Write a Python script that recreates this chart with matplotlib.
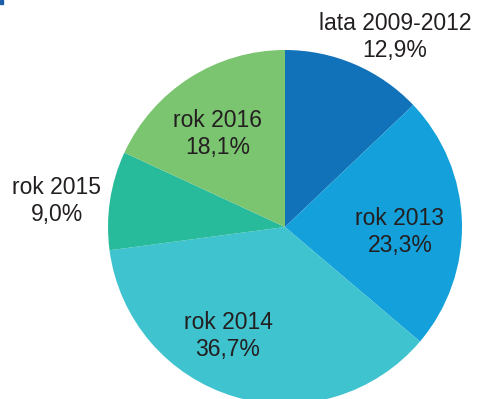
import matplotlib
matplotlib.use("Agg")
import matplotlib.pyplot as plt
import numpy as np

labels = ["lata 2009-2012", "rok 2013", "rok 2014", "rok 2015", "rok 2016"]
shares = [12.9, 23.3, 36.7, 9.0, 18.1]
colors = ["#1172b9", "#14a1db", "#3fc3cf", "#27bb9c", "#7bc470"]

# label anchor points in pixel space (x, y from top)
label_pos = [(395, 37), (400, 232), (228, 336), (57, 201), (218, 134)]

W, H = 479, 399
fig = plt.figure(figsize=(W / 100, H / 100), dpi=100)
ax = fig.add_axes([0, 0, 1, 1])

cx, cy, r = 285, 227, 177
# y axis is flipped, so counterclock=True draws clockwise on screen
ax.pie(shares, colors=colors, startangle=-90, counterclock=True,
       center=(cx, cy), radius=r, frame=True,
       wedgeprops=dict(linewidth=0))
ax.set_xlim(0, W)
ax.set_ylim(H, 0)
ax.set_aspect("equal")
ax.axis("off")

for lab, val, (x, y) in zip(labels, shares, label_pos):
    txt = f"{lab}\n{val:.1f}%".replace(".", ",")
    ax.text(x, y, txt, ha="center", va="center", fontsize=16.5,
            color="#231f20", family="Liberation Sans", linespacing=1.2)

# small corner mark
fig.patches.append(plt.Rectangle((0, 1 - 4 / H), 3 / W, 4 / H,
                                 transform=fig.transFigure, color="#1c5fa8"))

fig.savefig("out.png", dpi=100)
